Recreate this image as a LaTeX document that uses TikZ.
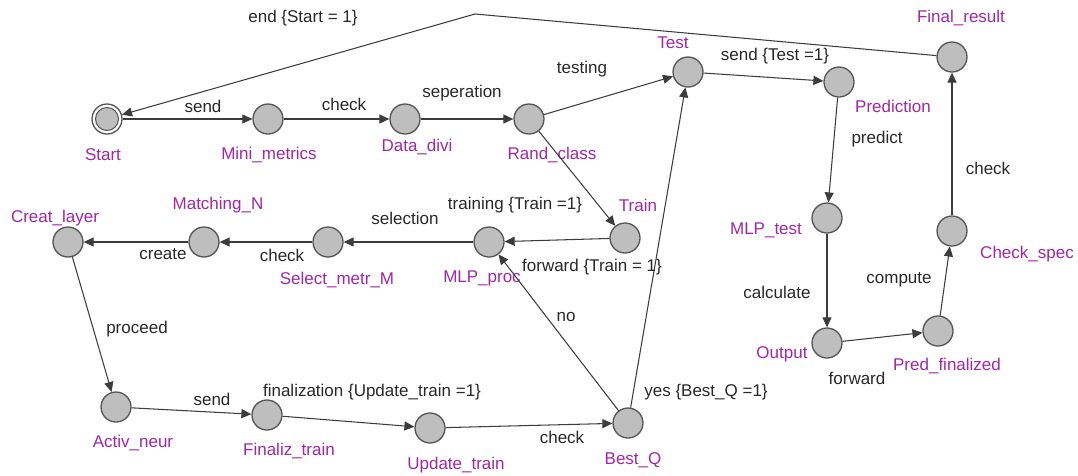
\documentclass[tikz,border=0pt]{standalone}
\usepackage{fontspec}
\setmainfont{Liberation Sans}
\usetikzlibrary{arrows.meta}
\definecolor{locfill}{RGB}{190,190,190}
\definecolor{locline}{RGB}{85,85,85}
\definecolor{edgeline}{RGB}{60,60,60}
\definecolor{locname}{RGB}{160,40,165}
\definecolor{guardtxt}{RGB}{40,40,40}
\tikzset{
  loc/.style={circle, minimum size=30pt, inner sep=0pt, draw=locline, line width=1.3pt, fill=locfill},
  locinner/.style={circle, minimum size=23pt, inner sep=0pt, draw=locline, line width=1pt, fill=locfill},
  lname/.style={text=locname, inner sep=0pt, font=\fontsize{17}{20}\selectfont},
  elbl/.style={text=guardtxt, inner sep=0pt, font=\fontsize{17}{20}\selectfont},
  edge/.style={draw=edgeline, line width=1.05pt, -{Triangle[length=10pt,width=9pt]}}
}
\begin{document}
\begin{tikzpicture}[x=1pt, y=-1pt]
\useasboundingbox (0,0) rectangle (1078,475);
\fill[white] (0,0) rectangle (1078,475);

% locations
\node[loc, fill=white] (start) at (107,119) {};
\node[locinner] (startin) at (start.center) {};
\node[loc] (mini)  at (268,119) {};
\node[loc] (divi)  at (405,119) {};
\node[loc] (rand)  at (529,119) {};
\node[loc] (test)  at (688,72) {};
\node[loc] (pred)  at (839,82) {};
\node[loc] (final) at (952,57) {};
\node[loc] (mlpt)  at (827,218) {};
\node[loc] (chk)   at (952,231) {};
\node[loc] (out)   at (827,343) {};
\node[loc] (pfin)  at (938,331) {};
\node[loc] (creat) at (68,242) {};
\node[loc] (match) at (204,242) {};
\node[loc] (sel)   at (328,242) {};
\node[loc] (mlpp)  at (489,242) {};
\node[loc] (train) at (625,238) {};
\node[loc] (activ) at (116,407) {};
\node[loc] (fint)  at (267,415) {};
\node[loc] (upd)   at (430,428) {};
\node[loc] (best)  at (628,423) {};

% location names
\node[lname] (n-start) at (103,155) {Start};
\node[lname] (n-mini)  at (269,155) {Mini\_metrics};
\node[lname] (n-divi)  at (417,147) {Data\_divi};
\node[lname] (n-rand)  at (552,155) {Rand\_class};
\node[lname] (n-test)  at (673,43) {Test};
\node[lname] (n-pred)  at (893,106) {Prediction};
\node[lname] (n-final) at (961,18) {Final\_result};
\node[lname] (n-mlpt)  at (766,230) {MLP\_test};
\node[lname] (n-chk)   at (1027,254) {Check\_spec};
\node[lname] (n-out)   at (782,354) {Output};
\node[lname] (n-pfin)  at (947,366) {Pred\_finalized};
\node[lname] (n-creat) at (55,218) {Creat\_layer};
\node[lname] (n-match) at (218,205) {Matching\_N};
\node[lname] (n-sel)   at (337,280) {Select\_metr\_M};
\node[lname] (n-mlpp)  at (482,278) {MLP\_proc};
\node[lname] (n-train) at (638,205) {Train};
\node[lname] (n-activ) at (133,443) {Activ\_neur};
\node[lname] (n-fint)  at (289,451) {Finaliz\_train};
\node[lname] (n-upd)   at (456,465) {Update\_train};
\node[lname] (n-best)  at (633,460) {Best\_Q};

% transitions
\coordinate (bend) at (475,14);
\draw[edge] (final) -- (bend) -- (start);
\draw[edge] (start) -- (mini);
\draw[edge] (mini) -- (divi);
\draw[edge] (divi) -- (rand);
\draw[edge] (rand) -- (test);
\draw[edge] (rand) -- (train);
\draw[edge] (test) -- (pred);
\draw[edge] (pred) -- (mlpt);
\draw[edge] (mlpt) -- (out);
\draw[edge] (out) -- (pfin);
\draw[edge] (pfin) -- (chk);
\draw[edge] (chk) -- (final);
\draw[edge] (train) -- (mlpp);
\draw[edge] (mlpp) -- (sel);
\draw[edge] (sel) -- (match);
\draw[edge] (match) -- (creat);
\draw[edge] (creat) -- (activ);
\draw[edge] (activ) -- (fint);
\draw[edge] (fint) -- (upd);
\draw[edge] (upd) -- (best);
\draw[edge] (best) -- (mlpp);
\draw[edge] (best) -- (test);

% transition labels
\node[elbl] (e-end)   at (303,18) {end \{Start = 1\}};
\node[elbl] (e-send1) at (203,106) {send};
\node[elbl] (e-chk1)  at (344,104) {check};
\node[elbl] (e-sep)   at (462,93) {seperation};
\node[elbl] (e-test)  at (582,69) {testing};
\node[elbl] (e-sendt) at (775,56) {send \{Test =1\}};
\node[elbl] (e-pred)  at (877,139) {predict};
\node[elbl] (e-chk2)  at (988,168) {check};
\node[elbl] (e-sel)   at (405,218) {selection};
\node[elbl] (e-train) at (515,205) {training \{Train =1\}};
\node[elbl] (e-creat) at (163,254) {create};
\node[elbl] (e-chk3)  at (282,255) {check};
\node[elbl] (e-fwd1)  at (592,267) {forward \{Train = 1\}};
\node[elbl] (e-no)    at (566,317) {no};
\node[elbl] (e-proc)  at (137,329) {proceed};
\node[elbl] (e-send2) at (212,399) {send};
\node[elbl] (e-finz)  at (372,392) {finalization \{Update\_train =1\}};
\node[elbl] (e-chk4)  at (562,437) {check};
\node[elbl] (e-yes)   at (706,392) {yes \{Best\_Q =1\}};
\node[elbl] (e-calc)  at (777,292) {calculate};
\node[elbl] (e-comp)  at (899,280) {compute};
\node[elbl] (e-fwd2)  at (857,378) {forward};
\end{tikzpicture}
\end{document}
